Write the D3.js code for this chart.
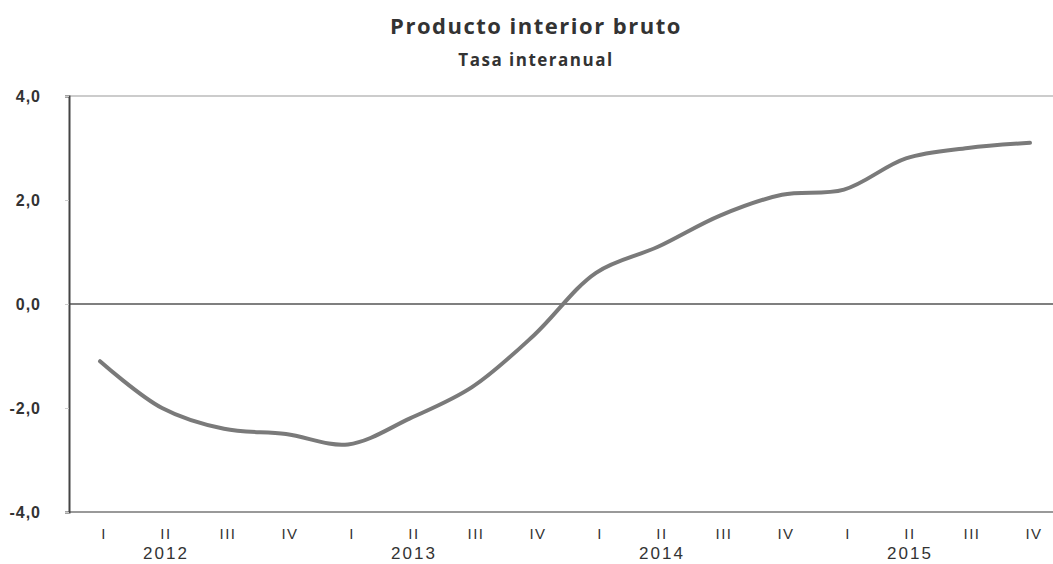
<!DOCTYPE html>
<html>
  <head>
    <meta charset="utf-8" />
    <title>Producto interior bruto</title>
    <script src="https://d3js.org/d3.v7.min.js"></script>
    <style>
      body { margin: 0; background: #fff; }
      text { font-family: "Liberation Sans", Arial, sans-serif; fill: #333; }
    </style>
  </head>
  <body>
    <script>
      let quarters = ["I", "II", "III", "IV", "I", "II", "III", "IV", "I", "II", "III", "IV", "I", "II", "III", "IV"];
      let years = ["2012", "2013", "2014", "2015"];
      let pib = [-1.1, -2.0, -2.4, -2.5, -2.7, -2.2, -1.6, -0.6, 0.6, 1.1, 1.7, 2.1, 2.2, 2.8, 3.0, 3.1];
      let yTicks = [4, 2, 0, -2, -4];

      let width = 1053;
      let height = 564;
      let svg = d3.select("body").append("svg").attr("width", width).attr("height", height);

      let x = d3.scalePoint().domain(d3.range(quarters.length)).range([100, 1030]);
      let y = d3.scaleLinear().domain([-4, 4]).range([512, 96]);
      let left = 69;

      // titles
      svg.append("text").attr("x", 536).attr("y", 34).attr("text-anchor", "middle")
        .style("font-family", "'Open Sans', sans-serif").style("font-size", "22px").style("font-weight", "bold")
        .style("letter-spacing", "1.5px").attr("fill", "#222")
        .text("Producto interior bruto");
      svg.append("text").attr("x", 536).attr("y", 66).attr("text-anchor", "middle")
        .style("font-family", "'Open Sans', sans-serif").style("font-size", "17px").style("font-weight", "bold")
        .style("letter-spacing", "1.5px").attr("fill", "#222")
        .text("Tasa interanual");

      // frame lines: top, bottom, zero
      svg.append("line").attr("x1", left).attr("x2", width).attr("y1", y(4)).attr("y2", y(4))
        .attr("stroke", "#999").attr("stroke-width", 1.2);
      svg.append("line").attr("x1", left).attr("x2", width).attr("y1", y(-4)).attr("y2", y(-4))
        .attr("stroke", "#777").attr("stroke-width", 1.4);
      svg.append("line").attr("x1", left).attr("x2", width).attr("y1", y(0)).attr("y2", y(0))
        .attr("stroke", "#555").attr("stroke-width", 1.3);

      // y axis (plain hyphen and decimal comma, as in the source)
      let yAxis = svg.append("g").attr("transform", `translate(${left},0)`)
        .call(d3.axisLeft(y).tickValues(yTicks).tickSize(4).tickPadding(24)
          .tickFormat((d) => d.toFixed(1).replace(".", ",")));
      yAxis.select(".domain").attr("stroke", "#444").attr("stroke-width", 2);
      yAxis.selectAll(".tick line").attr("stroke", "#ccc");
      yAxis.selectAll(".tick text").style("font-size", "16px").style("font-weight", "bold")
        .style("letter-spacing", "1px").attr("fill", "#444");

      // x labels
      svg.selectAll(".qlabel").data(quarters).join("text").attr("class", "qlabel")
        .attr("x", (d, i) => x(i) + 4).attr("y", 539).attr("text-anchor", "middle")
        .style("font-size", "15px").style("letter-spacing", "1.5px").attr("fill", "#444").text((d) => d);
      svg.selectAll(".ylabel").data(years).join("text").attr("class", "ylabel")
        .attr("x", (d, i) => x(i * 4 + 1) + 4).attr("y", 559).attr("text-anchor", "middle")
        .style("font-size", "17px").style("letter-spacing", "2px").attr("fill", "#444").text((d) => d);

      // series line
      let line = d3.line().x((d, i) => x(i)).y((d) => y(d)).curve(d3.curveCatmullRom.alpha(0.5));
      svg.append("path").datum(pib).attr("d", line).attr("fill", "none")
        .attr("stroke", "#7a7a7a").attr("stroke-width", 4).attr("stroke-linecap", "round");
    </script>
  </body>
</html>
